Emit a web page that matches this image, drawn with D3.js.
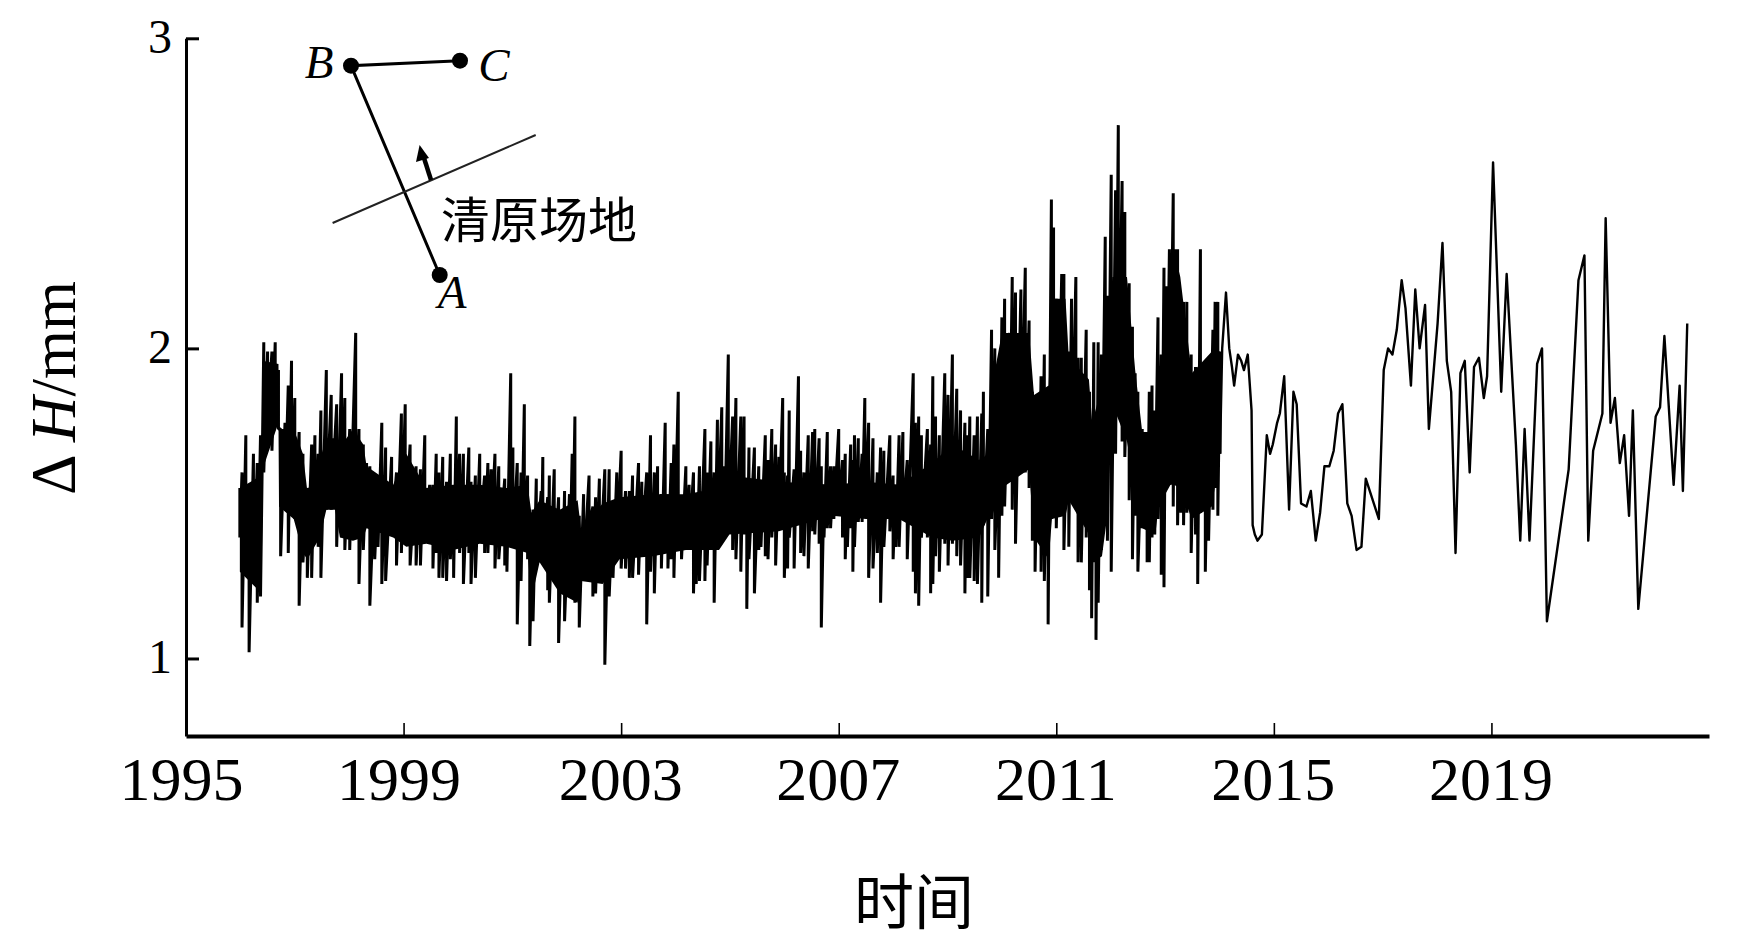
<!DOCTYPE html>
<html>
<head>
<meta charset="utf-8">
<script src="https://cdn.jsdelivr.net/npm/d3@7"></script>
<style>
  html, body { margin: 0; background: #fff; }
  text { fill: #000; }
</style>
</head>
<body>
<svg id="chart" width="1737" height="940"></svg>
<script>
"use strict";

// tick labels
const xTicks = [1995, 1999, 2003, 2007, 2011, 2015, 2019];
const yTicks = [1, 2, 3];

// dense part (1996-2014): the curve is too thick to read, so top and bottom of each column
const denseYears = [
  1995.99,1996.03,1996.10,1996.16,1996.24,1996.31,1996.37,1996.43,1996.50,1996.58,1996.64,1996.70,1996.74,1996.82,1996.88,1996.94,1997.00,1997.08,1997.15,1997.23,
  1997.31,1997.37,1997.43,1997.48,1997.58,1997.67,1997.77,1997.86,1997.92,1998.01,1998.12,1998.18,1998.26,1998.32,1998.38,1998.47,1998.53,1998.60,1998.67,1998.78,
  1998.87,1998.96,1999.03,1999.12,1999.23,1999.31,1999.39,1999.48,1999.54,1999.60,1999.65,1999.72,1999.79,1999.86,1999.92,1999.97,2000.03,2000.10,2000.20,2000.24,
  2000.32,2000.40,2000.49,2000.55,2000.61,2000.68,2000.75,2000.86,2000.90,2000.97,2001.01,2001.09,2001.16,2001.22,2001.28,2001.32,2001.38,2001.44,2001.53,2001.56,
  2001.65,2001.68,2001.77,2001.85,2001.92,2001.96,2002.05,2002.10,2002.15,2002.23,2002.31,2002.41,2002.48,2002.53,2002.60,2002.70,2002.78,2002.85,2002.92,2003.00,
  2003.08,2003.15,2003.21,2003.32,2003.38,2003.47,2003.54,2003.61,2003.67,2003.74,2003.81,2003.86,2003.92,2003.97,2004.05,2004.11,2004.19,2004.25,2004.33,2004.38,
  2004.44,2004.54,2004.58,2004.65,2004.71,2004.77,
  2004.85,2004.90,2004.97,2005.05,2005.11,2005.20,2005.26,2005.31,2005.35,2005.45,2005.53,2005.57,2005.65,2005.70,2005.77,2005.84,2005.90,2005.97,2006.00,2006.06,
  2006.09,2006.18,2006.26,2006.30,2006.36,2006.44,2006.52,2006.56,2006.64,2006.68,2006.73,2006.79,2006.85,2006.91,2007.00,2007.07,2007.12,2007.16,2007.22,2007.26,
  2007.29,2007.36,2007.43,2007.48,2007.55,2007.63,2007.71,2007.77,2007.83,2007.94,2008.00,2008.05,2008.11,2008.18,2008.26,2008.37,2008.41,2008.47,2008.52,2008.63,
  2008.69,2008.73,2008.78,2008.85,2008.95,2009.01,2009.09,2009.17,2009.24,2009.32,2009.36,2009.41,2009.49,2009.55,
  2009.63,2009.66,2009.74,2009.81,2009.87,2009.94,2010.00,2010.05,2010.14,2010.19,2010.25,2010.35,2010.43,2010.50,2010.56,2010.61,2010.67,2010.72,2010.78,2010.85,
  2010.91,2010.95,2011.00,2011.10,2011.14,2011.23,2011.28,2011.36,2011.40,2011.46,2011.55,2011.61,2011.65,2011.69,2011.73,2011.77,2011.83,2011.90,2011.94,2012.01,
  2012.09,2012.14,2012.21,2012.26,2012.34,2012.40,2012.45,2012.50,2012.58,2012.67,2012.71,2012.76,2012.81,2012.87,2012.93,2012.98,2013.02,2013.08,2013.15,2013.19,
  2013.23,2013.29,2013.34,2013.40,2013.48,2013.56,2013.60,2013.65,2013.74,2013.80,2013.88,2013.92,2013.97,2014.01
];
const denseHigh = [
  1.55,1.60,1.72,1.55,1.66,1.63,1.72,2.02,1.99,1.99,2.02,1.93,1.74,1.76,1.88,1.96,1.84,1.73,1.66,1.55,
  1.69,1.72,1.66,1.80,1.93,1.85,1.82,1.92,1.84,1.74,2.05,1.74,1.69,1.63,1.62,1.59,1.57,1.76,1.68,1.65,
  1.60,1.79,1.82,1.69,1.62,1.61,1.72,1.56,1.56,1.66,1.60,1.65,1.57,1.66,1.54,1.78,1.66,1.66,1.68,1.57,
  1.59,1.66,1.59,1.63,1.61,1.66,1.62,1.58,1.54,1.92,1.68,1.63,1.60,1.82,1.59,1.42,1.48,1.58,1.54,1.65,
  1.52,1.59,1.61,1.52,1.48,1.54,1.53,1.66,1.78,1.46,1.53,1.59,1.49,1.52,1.58,1.61,1.61,1.50,1.60,1.67,
  1.54,1.54,1.59,1.63,1.57,1.60,1.72,1.60,1.62,1.53,1.76,1.53,1.63,1.69,1.86,1.52,1.62,1.56,1.60,1.53,
  1.62,1.74,1.60,1.70,1.60,1.77,
  1.81,1.62,1.98,1.78,1.84,1.78,1.78,1.52,1.68,1.68,1.62,1.55,1.72,1.64,1.74,1.69,1.65,1.84,1.60,1.59,
  1.80,1.61,1.91,1.67,1.60,1.72,1.73,1.74,1.71,1.62,1.56,1.73,1.62,1.62,1.74,1.64,1.66,1.56,1.69,1.64,
  1.72,1.71,1.66,1.84,1.76,1.71,1.60,1.68,1.67,1.72,1.59,1.56,1.72,1.73,1.64,1.92,1.76,1.78,1.72,1.74,
  1.69,1.91,1.78,1.72,1.92,1.85,1.98,1.87,1.80,1.76,1.72,1.78,1.72,1.78,
  1.79,1.86,1.74,2.06,2.00,1.70,2.10,2.16,2.05,2.23,2.18,2.19,2.26,2.09,1.86,1.85,1.84,1.91,1.98,1.82,
  2.48,2.39,2.16,2.24,2.24,1.99,2.16,2.23,1.97,1.97,2.06,1.86,1.77,2.02,1.79,2.02,1.98,2.36,2.17,2.56,
  2.51,2.72,2.54,2.44,2.21,2.07,1.92,1.86,1.74,1.71,1.86,1.88,1.80,2.10,1.98,2.26,2.20,2.32,2.50,2.32,
  2.32,2.06,2.15,2.15,1.98,1.94,1.85,2.32,1.94,1.90,2.06,2.15,2.15,1.99
];
const denseLow = [
  1.39,1.10,1.28,1.02,1.25,1.18,1.20,1.60,1.76,1.67,1.77,1.74,1.33,1.50,1.34,1.49,1.45,1.17,1.31,1.26,
  1.26,1.39,1.36,1.26,1.48,1.48,1.36,1.43,1.35,1.35,1.45,1.24,1.35,1.45,1.17,1.32,1.36,1.24,1.25,1.40,
  1.30,1.34,1.42,1.30,1.30,1.30,1.39,1.39,1.29,1.34,1.26,1.26,1.25,1.32,1.26,1.40,1.34,1.24,1.34,1.24,
  1.26,1.40,1.34,1.34,1.39,1.29,1.32,1.30,1.28,1.36,1.36,1.11,1.25,1.36,1.32,1.04,1.12,1.32,1.31,1.32,
  1.22,1.18,1.27,1.05,1.23,1.12,1.25,1.25,1.18,1.10,1.27,1.42,1.20,1.21,1.26,0.98,1.20,1.26,1.34,1.29,
  1.29,1.26,1.26,1.27,1.35,1.11,1.28,1.21,1.34,1.29,1.34,1.29,1.32,1.26,1.36,1.32,1.39,1.36,1.21,1.24,
  1.25,1.25,1.30,1.35,1.18,1.35,
  1.39,1.39,1.42,1.35,1.32,1.28,1.40,1.16,1.32,1.21,1.35,1.36,1.33,1.32,1.39,1.30,1.42,1.47,1.26,1.29,
  1.39,1.29,1.46,1.34,1.33,1.29,1.41,1.40,1.37,1.10,1.39,1.42,1.42,1.45,1.48,1.39,1.32,1.36,1.42,1.28,
  1.36,1.44,1.44,1.46,1.26,1.29,1.34,1.18,1.36,1.41,1.32,1.36,1.36,1.45,1.32,1.28,1.21,1.17,1.39,1.39,
  1.21,1.24,1.33,1.28,1.37,1.30,1.37,1.33,1.30,1.21,1.26,1.26,1.25,1.24,
  1.18,1.43,1.20,1.45,1.35,1.26,1.46,1.49,1.58,1.48,1.37,1.63,1.60,1.55,1.38,1.28,1.38,1.28,1.25,1.11,
  1.45,1.59,1.42,1.46,1.35,1.36,1.59,1.51,1.31,1.31,1.39,1.22,1.13,1.31,1.06,1.18,1.35,1.45,1.38,1.28,
  1.66,1.79,1.70,1.65,1.51,1.32,1.46,1.28,1.42,1.31,1.31,1.39,1.40,1.45,1.27,1.23,1.56,1.56,1.49,1.56,
  1.43,1.47,1.43,1.47,1.34,1.40,1.24,1.47,1.28,1.38,1.48,1.55,1.46,1.66
];

// solid black core of the dense part, where the daily readings merge
const coreYears = [
  1995.99,1996.39,1996.41,1996.70,1996.71,1996.98,1997.15,1997.23,1997.46,1997.58,1997.74,1997.83,1998.07,1998.26,1998.32,1998.81,1999.05,1999.42,1999.91,2000.40,
  2000.89,2001.28,2001.35,2001.50,2001.87,2002.20,2002.26,2002.66,2002.97,2003.58,2004.19,2004.80,2004.99,2005.90,2006.88,2007.50,2008.11,2008.72,2009.09,2009.58,
  2009.76,2009.82,2010.00,2010.50,2010.59,2010.86,2010.92,2011.17,2011.23,2011.60,2011.66,2011.84,2011.93,2012.03,2012.30,2012.45,2012.58,2012.82,2012.88,2013.10,
  2013.16,2013.28,2013.49,2013.86,2014.01
];
const coreHigh = [
  1.55,1.59,1.96,1.95,1.74,1.74,1.66,1.54,1.64,1.71,1.71,1.68,1.74,1.69,1.62,1.56,1.66,1.55,1.56,1.56,
  1.55,1.56,1.47,1.51,1.48,1.51,1.42,1.50,1.52,1.53,1.53,1.55,1.59,1.57,1.56,1.57,1.56,1.63,1.69,1.64,
  1.66,1.88,2.05,2.05,1.85,1.88,2.16,2.16,1.97,1.90,1.76,1.88,1.97,2.23,2.23,1.93,1.73,1.73,1.90,1.97,
  2.32,2.23,1.92,1.99,1.99
];
const coreLow = [
  1.28,1.21,1.61,1.76,1.49,1.45,1.34,1.32,1.39,1.48,1.48,1.39,1.38,1.39,1.42,1.39,1.36,1.37,1.35,1.37,
  1.36,1.34,1.19,1.31,1.21,1.18,1.25,1.24,1.32,1.33,1.35,1.35,1.40,1.41,1.46,1.45,1.45,1.39,1.38,1.39,
  1.46,1.46,1.55,1.61,1.39,1.32,1.45,1.46,1.51,1.40,1.31,1.33,1.45,1.82,1.70,1.55,1.42,1.40,1.49,1.56,
  1.56,1.55,1.45,1.49,1.66
];

// sparse part (2014-2022), individual points of the curve
const sparseYears = [
  2014.05,2014.12,2014.18,2014.23,2014.27,2014.34,2014.40,2014.45,2014.52,2014.59,2014.61,2014.65,2014.70,2014.78,2014.87,2014.93,2014.98,2015.06,2015.11,2015.19,
  2015.28,2015.36,2015.42,2015.50,2015.60,2015.68,2015.77,2015.85,2015.93,2016.02,2016.10,2016.18,2016.26,2016.35,2016.43,2016.52,2016.61,2016.69,2016.93,2017.02,
  2017.10,2017.18,2017.26,2017.35,2017.42,2017.52,2017.60,2017.68,2017.78,2017.85,2018.01,2018.10,2018.18,2018.26,2018.34,2018.43,2018.51,2018.60,2018.68,2018.77,
  2018.86,2018.92,2019.03,2019.18,2019.28,2019.45,2019.53,2019.61,2019.70,2019.84,2019.93,2020.02,2020.42,2020.60,2020.71,2020.78,2020.87,2021.04,2021.10,2021.19,
  2021.27,2021.36,2021.44,2021.53,2021.60,2021.70,2022.02,2022.10,2022.18,2022.35,2022.46,2022.52,2022.60
];
const sparseValues = [
  2.00,2.18,2.00,1.94,1.88,1.98,1.96,1.93,1.98,1.80,1.43,1.40,1.38,1.40,1.72,1.66,1.69,1.76,1.79,1.91,
  1.48,1.86,1.82,1.50,1.49,1.54,1.38,1.47,1.62,1.62,1.67,1.79,1.82,1.50,1.46,1.35,1.36,1.58,1.45,1.93,
  2.00,1.98,2.06,2.22,2.13,1.88,2.19,2.00,2.14,1.74,2.08,2.34,1.96,1.86,1.34,1.92,1.96,1.60,1.94,1.97,
  1.84,1.91,2.60,1.86,2.24,1.69,1.38,1.74,1.38,1.95,2.00,1.12,1.61,2.22,2.30,1.38,1.67,1.79,2.42,1.76,
  1.84,1.63,1.72,1.46,1.80,1.16,1.78,1.81,2.04,1.56,1.88,1.54,2.08
];

const svg = d3.select("#chart");
const serif = "'Liberation Serif', serif";
const cjk = "'Noto Sans CJK SC', sans-serif";

const x = d3.scaleLinear().domain([1995, 2023]).range([186, 1709]);
const y = d3.scaleLinear().domain([0.75, 3]).range([736, 38.3]);

// dense curve goes up and down between the two readings of a column
const densePoints = [];
denseYears.forEach((year, i) => {
  densePoints.push([year, denseHigh[i]]);
  densePoints.push([year, denseLow[i]]);
});
const sparsePoints = sparseYears.map((year, i) => [year, sparseValues[i]]);
sparsePoints.unshift(densePoints[densePoints.length - 1]);

const line = d3.line().x(d => x(d[0])).y(d => y(d[1]));

const core = d3.area()
    .x((d, i) => x(coreYears[i]))
    .y0((d, i) => y(coreLow[i]))
    .y1((d, i) => y(coreHigh[i]));

svg.append("path")
    .attr("d", core(coreYears))
    .attr("fill", "#000");

svg.append("path")
    .attr("d", line(densePoints))
    .attr("fill", "none")
    .attr("stroke", "#000")
    .attr("stroke-width", 3)
    .attr("stroke-linejoin", "bevel");

svg.append("path")
    .attr("d", line(sparsePoints))
    .attr("fill", "none")
    .attr("stroke", "#000")
    .attr("stroke-width", 2.4)
    .attr("stroke-linejoin", "round");

// axes
const xAxis = svg.append("g")
    .attr("transform", "translate(0,736)")
    .call(d3.axisBottom(x).tickValues(xTicks).tickFormat(d3.format("d")).tickSizeInner(-13).tickSizeOuter(0));
xAxis.select(".domain").attr("stroke-width", 4);
xAxis.selectAll(".tick line").attr("stroke-width", 1.6);
xAxis.selectAll(".tick text")
    .attr("y", 64)
    .attr("dy", 0)
    .attr("dx", d => d < 2000 ? -5 : -1)
    .style("font-family", serif)
    .style("font-size", "62px");

const yAxis = svg.append("g")
    .attr("transform", "translate(186,0)")
    .call(d3.axisLeft(y).tickValues(yTicks).tickFormat(d3.format("d")).tickSizeInner(-13).tickSizeOuter(0));
yAxis.select(".domain").attr("stroke-width", 3);
yAxis.selectAll(".tick line").attr("stroke-width", 3);
yAxis.selectAll(".tick text")
    .attr("x", -14)
    .attr("dy", 14)
    .style("font-family", serif)
    .style("font-size", "48px");

// axis titles
const yTitle = svg.append("text")
    .attr("transform", "translate(75,388) rotate(-90)")
    .attr("text-anchor", "middle")
    .style("font-family", serif)
    .style("font-size", "63px");
yTitle.append("tspan").text("Δ ");
yTitle.append("tspan").style("font-style", "italic").text("H");
yTitle.append("tspan").text("/mm");

svg.append("text")
    .attr("x", 914)
    .attr("y", 924)
    .attr("text-anchor", "middle")
    .style("font-family", cjk)
    .style("font-size", "60px")
    .text("时间");

// inset sketch of the site, in page pixels
const inset = svg.append("g");
const pointB = [351, 65.7], pointC = [460, 60.7], pointA = [439.7, 275];

inset.append("path")
    .attr("d", d3.line()([pointC, pointB, pointA]))
    .attr("fill", "none")
    .attr("stroke", "#000")
    .attr("stroke-width", 3);

inset.selectAll("circle")
    .data([pointA, pointB, pointC])
    .enter()
    .append("circle")
    .attr("cx", d => d[0])
    .attr("cy", d => d[1])
    .attr("r", 8)
    .attr("fill", "#000");

inset.append("line")
    .attr("x1", 332.6).attr("y1", 223)
    .attr("x2", 535.7).attr("y2", 135)
    .attr("stroke", "#222")
    .attr("stroke-width", 2);

inset.append("line")
    .attr("x1", 431).attr("y1", 180)
    .attr("x2", 424).attr("y2", 158)
    .attr("stroke", "#000")
    .attr("stroke-width", 4.5);

inset.append("path")
    .attr("d", "M419.6,145 L416,162 L429,158 Z")
    .attr("fill", "#000");

const insetLabels = [["A", 452, 308], ["B", 319, 78], ["C", 494, 81]];
inset.selectAll(".point-label")
    .data(insetLabels)
    .enter()
    .append("text")
    .attr("class", "point-label")
    .attr("x", d => d[1])
    .attr("y", d => d[2])
    .attr("text-anchor", "middle")
    .style("font-family", serif)
    .style("font-style", "italic")
    .style("font-size", "47px")
    .text(d => d[0]);

inset.append("text")
    .attr("x", 441)
    .attr("y", 238)
    .style("font-family", cjk)
    .style("font-size", "49px")
    .text("清原场地");
</script>
</body>
</html>
